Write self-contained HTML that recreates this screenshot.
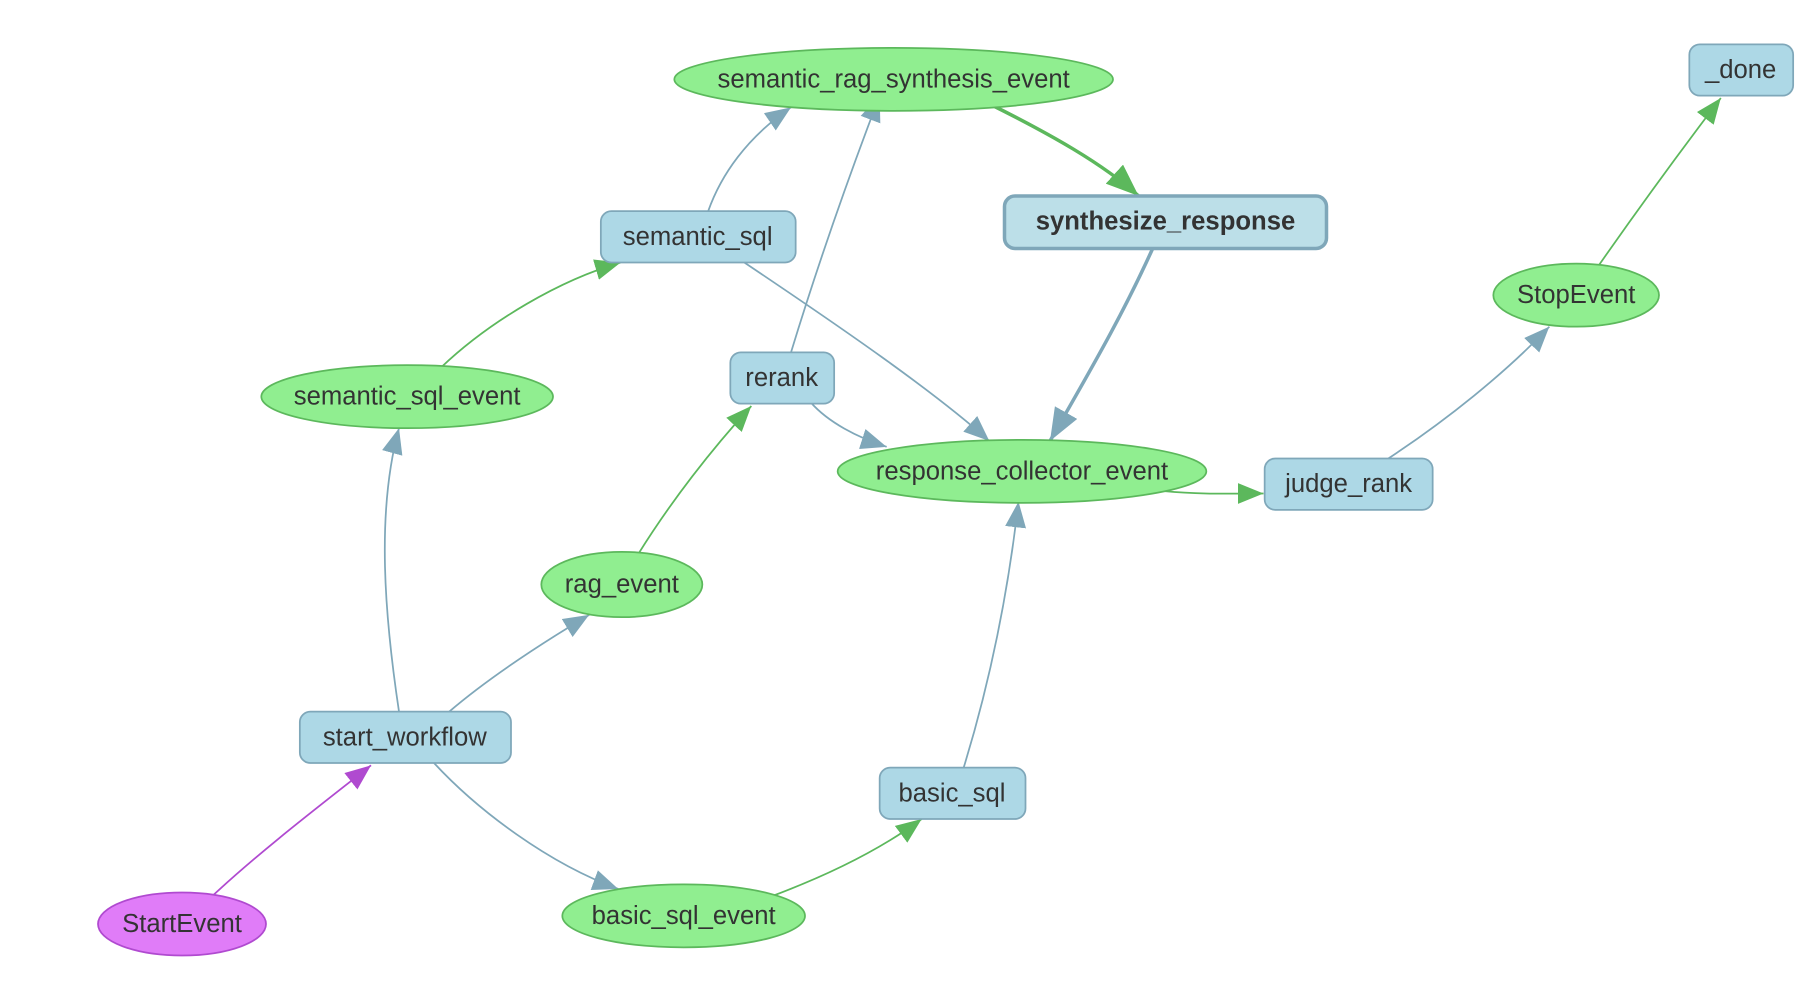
<!DOCTYPE html>
<html><head><meta charset="utf-8"><style>
html,body{margin:0;padding:0;background:#fff;}
svg{display:block;}
text{font-family:"Liberation Sans",sans-serif;font-size:22px;fill:#333;text-anchor:middle;dominant-baseline:central;}
.r{fill:#add8e6;stroke:#7fa7b9;stroke-width:1.5;}
.e{fill:#90ee90;stroke:#5cb85c;stroke-width:1.5;}
.b{fill:none;stroke:#7fa7b9;stroke-width:1.5;}
.g{fill:none;stroke:#5cb85c;stroke-width:1.5;}
</style></head><body>
<svg width="1820" height="1008" viewBox="0 0 1560 864" xmlns="http://www.w3.org/2000/svg">
<defs>
<marker id="ab" markerUnits="userSpaceOnUse" markerWidth="24" markerHeight="18" refX="22" refY="9" orient="auto"><path d="M0,0 L22,9 L0,18 Z" fill="#7fa7b9"/></marker>
<marker id="ag" markerUnits="userSpaceOnUse" markerWidth="24" markerHeight="18" refX="22" refY="9" orient="auto"><path d="M0,0 L22,9 L0,18 Z" fill="#5cb85c"/></marker>
<marker id="ap" markerUnits="userSpaceOnUse" markerWidth="24" markerHeight="18" refX="22" refY="9" orient="auto"><path d="M0,0 L22,9 L0,18 Z" fill="#b04ad0"/></marker>
<marker id="abB" markerUnits="userSpaceOnUse" markerWidth="30" markerHeight="22" refX="28" refY="11" orient="auto"><path d="M0,0 L28,11 L0,22 Z" fill="#7fa7b9"/></marker>
<marker id="agB" markerUnits="userSpaceOnUse" markerWidth="30" markerHeight="22" refX="28" refY="11" orient="auto"><path d="M0,0 L28,11 L0,22 Z" fill="#5cb85c"/></marker>
</defs>
<!-- edges -->
<path class="b" d="M607,181 C618,150 640,118 678,92" marker-end="url(#ab)"/>
<path class="b" d="M678,302 C700,230 728,150 754,82" marker-end="url(#ab)"/>
<path d="M850,90 C900,115 945,140 976,168" fill="none" stroke="#5cb85c" stroke-width="3" marker-end="url(#agB)"/>
<path d="M988,213 C960,275 930,325 900,378" fill="none" stroke="#7fa7b9" stroke-width="3" marker-end="url(#abB)"/>
<path class="b" d="M638,225 C720,280 800,335 848,378" marker-end="url(#ab)"/>
<path class="b" d="M695,345 C710,362 735,375 760,383" marker-end="url(#ab)"/>
<path class="g" d="M998,421 C1030,424 1055,423 1083,423" marker-end="url(#ag)"/>
<path class="b" d="M1190,393 C1240,360 1290,320 1328,280" marker-end="url(#ab)"/>
<path class="g" d="M1370,228 C1400,185 1440,130 1475,84" marker-end="url(#ag)"/>
<path class="g" d="M378,315 C420,275 480,240 532,225" marker-end="url(#ag)"/>
<path class="b" d="M342,610 C330,530 322,440 342,367" marker-end="url(#ab)"/>
<path class="g" d="M547,475 C575,430 610,385 644,348" marker-end="url(#ag)"/>
<path class="b" d="M385,610 C420,580 470,548 505,527" marker-end="url(#ab)"/>
<path class="b" d="M372,654 C410,695 470,740 530,762" marker-end="url(#ab)"/>
<path class="g" d="M662,768 C710,750 755,728 790,702" marker-end="url(#ag)"/>
<path class="b" d="M826,658 C850,580 865,500 873,430" marker-end="url(#ab)"/>
<path d="M182,768 C225,728 275,690 318,656" fill="none" stroke="#b04ad0" stroke-width="1.5" marker-end="url(#ap)"/>
<!-- nodes -->
<ellipse class="e" cx="766" cy="68" rx="188" ry="27"/><text x="766" y="68">semantic_rag_synthesis_event</text>
<rect class="r" x="1448" y="38" width="89" height="44" rx="9"/><text x="1492" y="60">_done</text>
<rect x="861" y="168" width="276" height="45" rx="9" fill="#bcdfe8" stroke="#7fa7b9" stroke-width="3"/><text x="999" y="190" font-weight="bold">synthesize_response</text>
<rect class="r" x="515" y="181" width="167" height="44" rx="9"/><text x="598" y="203">semantic_sql</text>
<ellipse class="e" cx="1351" cy="253" rx="71" ry="27"/><text x="1351" y="253">StopEvent</text>
<ellipse class="e" cx="349" cy="340" rx="125" ry="27"/><text x="349" y="340">semantic_sql_event</text>
<rect class="r" x="626" y="302" width="89" height="44" rx="9"/><text x="670" y="324">rerank</text>
<ellipse class="e" cx="876" cy="404" rx="158" ry="27"/><text x="876" y="404">response_collector_event</text>
<rect class="r" x="1084" y="393" width="144" height="44" rx="9"/><text x="1156" y="415">judge_rank</text>
<ellipse class="e" cx="533" cy="501" rx="69" ry="28"/><text x="533" y="501">rag_event</text>
<rect class="r" x="257" y="610" width="181" height="44" rx="9"/><text x="347" y="632">start_workflow</text>
<rect class="r" x="754" y="658" width="125" height="44" rx="9"/><text x="816" y="680">basic_sql</text>
<ellipse cx="156" cy="792" rx="72" ry="27" fill="#e07cf8" stroke="#b04ad0" stroke-width="1.5"/><text x="156" y="792">StartEvent</text>
<ellipse class="e" cx="586" cy="785" rx="104" ry="27"/><text x="586" y="785">basic_sql_event</text>
</svg>
</body></html>
